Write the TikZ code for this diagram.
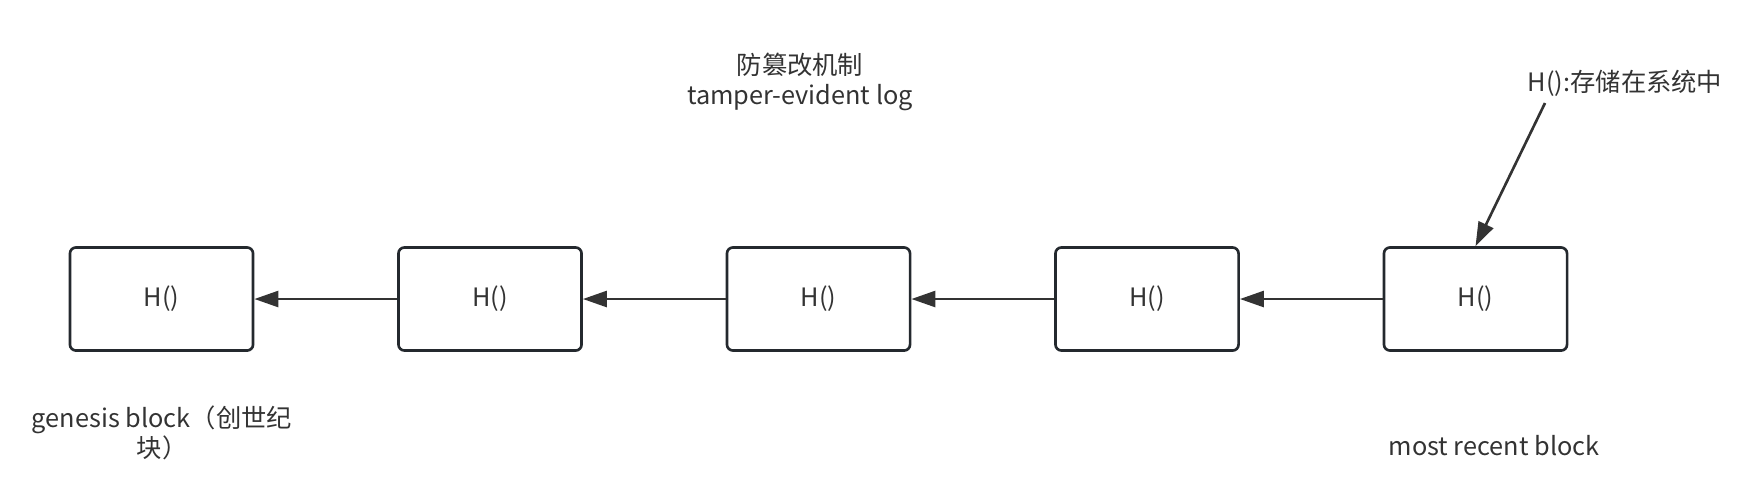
\documentclass[tikz,border=0pt]{standalone}
\usepackage{fontspec}
\setmainfont{Noto Sans CJK SC}
\usetikzlibrary{arrows.meta}
\definecolor{ink}{HTML}{333333}
\definecolor{edge}{HTML}{24292E}
\tikzset{
  blk/.style={draw=edge,line width=0.75pt,rounded corners=0.6mm,
    minimum width=1.83cm,minimum height=1.03cm,inner sep=0pt,text=ink},
  lbl/.style={text=ink,align=center},
  link/.style={->,draw=ink,line width=0.75pt}
}
\begin{document}
\begin{tikzpicture}[>={Triangle[length=2.4mm,width=1.6mm]},x=0.01cm,y=-0.01cm,
    font=\fontsize{7.2pt}{8.5pt}\selectfont]
    \useasboundingbox (0,0) rectangle (1740,484);
    % the chain
    \node[blk] (b1) at (161.5,299) {H()};
    \node[blk] (b2) at (490,299) {H()};
    \node[blk] (b3) at (818.5,299) {H()};
    \node[blk] (b4) at (1147,299) {H()};
    \node[blk] (b5) at (1475.5,299) {H()};
    \draw[link] (b2.west) -- (b1.east);
    \draw[link] (b3.west) -- (b2.east);
    \draw[link] (b4.west) -- (b3.east);
    \draw[link] (b5.west) -- (b4.east);
    % labels
    \node[lbl] (title) at (800,82) {防篡改机制\\tamper-evident log};
    \node[lbl] (ann) at (1625,83) {H():存储在系统中};
    \coordinate (annfoot) at (1545,103);
    \draw[link] (annfoot) -- (b5.north);
    \node[lbl] (gen) at (162,433) {genesis block（创世纪\\块）};
    \node[lbl] (recent) at (1494,446) {most recent block};
  \end{tikzpicture}
\end{document}
